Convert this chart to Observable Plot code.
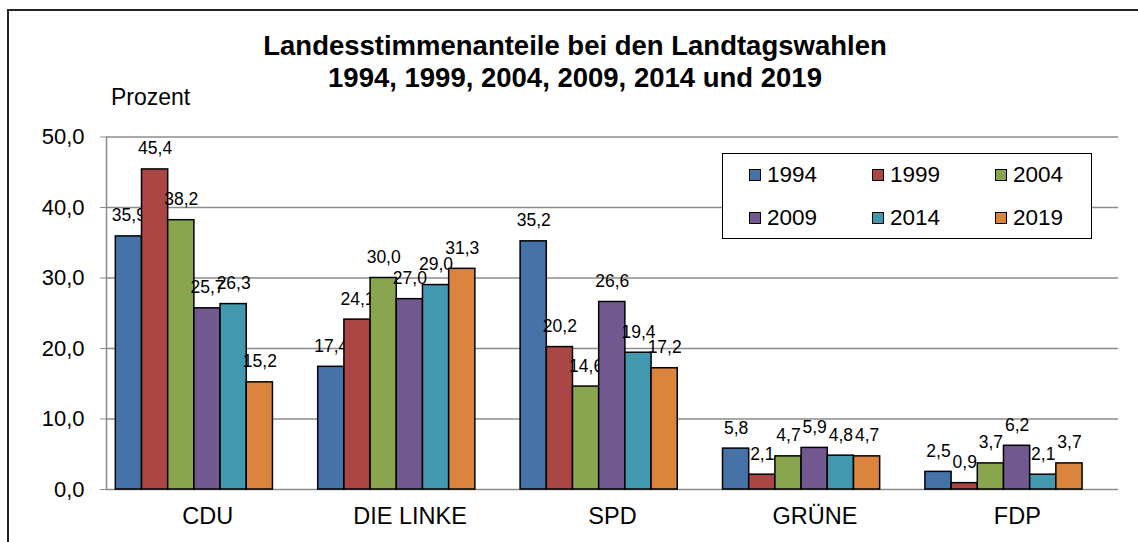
<!DOCTYPE html>
<html>
<head>
<meta charset="utf-8">
<script src="https://cdn.jsdelivr.net/npm/d3@7"></script>
<script src="https://cdn.jsdelivr.net/npm/@observablehq/plot@0.6"></script>
<style>
  html, body { margin: 0; padding: 0; background: #fff; }
  #wrap { position: relative; width: 1138px; height: 542px; overflow: hidden; font-family: "Liberation Sans", Arial, sans-serif; color: #000; }
  #frame { position: absolute; left: 7px; top: 9px; width: 1140px; height: 540px; border: 2px solid #222; box-sizing: border-box; }
  #title { position: absolute; left: 0; width: 1150px; top: 29.5px; text-align: center; font-weight: bold; font-size: 27.5px; line-height: 32px; white-space: nowrap; }
  #ylab { position: absolute; left: 111px; top: 84px; font-size: 23px; }
  #legend { position: absolute; left: 722px; top: 153px; width: 370px; height: 86px; border: 1.5px solid #000; background: #fff; box-sizing: border-box; }
  .li { position: absolute; font-size: 22.5px; line-height: 22px; }
  .sw { position: absolute; width: 12px; height: 12px; border: 1.5px solid #000; box-sizing: border-box; }
  #chart svg { position: absolute; left: 0; top: 0; overflow: visible; }
  #chart g[aria-label="y-axis tick"] { color: #8c8c8c; }
  #chart g[aria-label="x-axis tick label"] { font-size: 23.5px; }
</style>
</head>
<body>
<div id="wrap">
  <div id="chart"></div>
  <div id="frame"></div>
  <div id="title">Landesstimmenanteile bei den Landtagswahlen<br>1994, 1999, 2004, 2009, 2014 und 2019</div>
  <div id="ylab">Prozent</div>
  <div id="legend"></div>
</div>
<script>
const parties = ["CDU", "DIE LINKE", "SPD", "GRÜNE", "FDP"];
const years = ["1994", "1999", "2004", "2009", "2014", "2019"];
const v1994 = [35.9, 17.4, 35.2, 5.8, 2.5];
const v1999 = [45.4, 24.1, 20.2, 2.1, 0.9];
const v2004 = [38.2, 30.0, 14.6, 4.7, 3.7];
const v2009 = [25.7, 27.0, 26.6, 5.9, 6.2];
const v2014 = [26.3, 29.0, 19.4, 4.8, 2.1];
const v2019 = [15.2, 31.3, 17.2, 4.7, 3.7];
const colors = ["#4572A7", "#AA4643", "#89A54E", "#71588F", "#4198AF", "#DB843D"];
const yTicks = [0, 10, 20, 30, 40, 50];

const series = [v1994, v1999, v2004, v2009, v2014, v2019];
const fmt = d => d.toFixed(1).replace(".", ",");

const OFF = 0.046, BW = 0.1294;
const marks = [
  Plot.ruleY(yTicks, {stroke: "#8c8c8c", strokeWidth: 1.5}),
  Plot.ruleX([-0.5], {stroke: "#8c8c8c", strokeWidth: 1.5})
];
series.forEach((vals, j) => {
  const rows = vals.map((v, i) => ({i, value: v, year: years[j], party: parties[i]}));
  marks.push(Plot.rectY(rows, {
    x1: d => d.i - 0.5 + OFF + j * BW,
    x2: d => d.i - 0.5 + OFF + (j + 1) * BW,
    y1: 0, y2: "value",
    fill: colors[j], stroke: "#000", strokeWidth: 1.5
  }));
  marks.push(Plot.text(rows, {
    x: d => d.i - 0.5 + OFF + (j + 0.5) * BW,
    y: "value", text: d => fmt(d.value),
    lineAnchor: "bottom", dy: -15, fontSize: 17.5, fill: "#000"
  }));
});

const chart = Plot.plot({
  width: 1138, height: 542,
  marginLeft: 106, marginRight: 20, marginTop: 136.5, marginBottom: 53,
  style: {fontSize: "22px", fontFamily: "'Liberation Sans', Arial, sans-serif", background: "transparent", color: "#000", overflow: "visible"},
  x: {type: "linear", domain: [-0.5, 4.5], ticks: [0, 1, 2, 3, 4], tickFormat: i => parties[i], tickSize: 0, tickPadding: 18, label: null},
  y: {domain: [0, 50], ticks: yTicks, tickFormat: fmt, tickSize: 6, tickPadding: 16, label: null},
  marks
});
document.getElementById("chart").appendChild(chart);

// legend
const lg = document.getElementById("legend");
const colX = [26, 149, 272];
const rowY = [15, 58];
years.forEach((y, k) => {
  const c = k % 3, r = Math.floor(k / 3);
  const sw = document.createElement("div");
  sw.className = "sw";
  sw.style.left = colX[c] + "px";
  sw.style.top = rowY[r] + "px";
  sw.style.background = colors[k];
  lg.appendChild(sw);
  const t = document.createElement("div");
  t.className = "li";
  t.textContent = y;
  t.style.left = (colX[c] + 18) + "px";
  t.style.top = (rowY[r] - 5) + "px";
  lg.appendChild(t);
});
</script>
</body>
</html>
